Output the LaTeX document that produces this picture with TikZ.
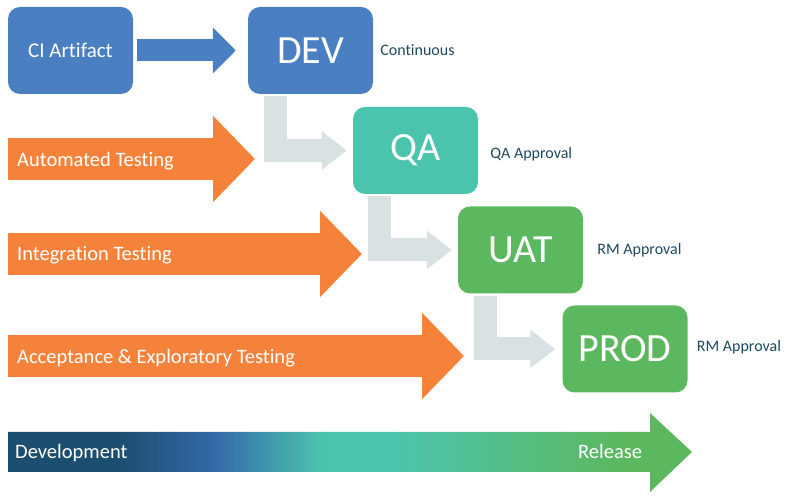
\documentclass[tikz,border=0pt]{standalone}
\usepackage{fontspec}
\setmainfont{Carlito}[Ligatures=NoCommon]
\usepackage{tikz}
\usetikzlibrary{arrows.meta,positioning}
\definecolor{ciblue}{HTML}{4A7FC2}
\definecolor{qateal}{HTML}{4BC4AE}
\definecolor{envgreen}{HTML}{5CB85F}
\definecolor{testorange}{HTML}{F5823A}
\definecolor{flowgray}{HTML}{D9E2E2}
\definecolor{notecol}{HTML}{1E4A5E}
\definecolor{devnavy}{HTML}{1C4E6F}
\definecolor{midblue}{HTML}{3469A8}
\pgfdeclarehorizontalshading{devrelease}{100bp}{color(0bp)=(devnavy); color(33bp)=(devnavy); color(40bp)=(midblue); color(48bp)=(qateal); color(53bp)=(qateal); color(70bp)=(envgreen); color(100bp)=(envgreen)}

\begin{document}
\begin{tikzpicture}[x=1pt, y=-1pt,
  env/.style={rounded corners=12pt, minimum width=125pt, minimum height=87pt,
    text=white, inner sep=0pt, font=\fontsize{40}{48}\selectfont},
  note/.style={text=notecol, inner sep=0pt, font=\fontsize{16}{19}\selectfont},
  testlbl/.style={text=white, anchor=base west, inner sep=0pt, font=\fontsize{20.5}{24}\selectfont},
  promote/.style={draw=flowgray, line width=23pt, -{Triangle[length=25pt, width=37pt]}},
  testarrow/.style={draw=testorange, line width=42pt, -{Triangle[length=42pt, width=84pt]}}]

  \useasboundingbox (0,0) rectangle (788,502);

  %% test stages
  \coordinate (autotip) at (255,159);
  \coordinate (integtip) at (362,254);
  \coordinate (accepttip) at (464,356);
  \draw[testarrow] (8,159) -- (autotip);
  \draw[testarrow] (8,254) -- (integtip);
  \draw[testarrow] (8,356) -- (accepttip);
  \node[testlbl] (autolbl) at (17,167) {Automated Testing};
  \node[testlbl] (integlbl) at (17,261) {Integration Testing};
  \node[testlbl] (acceptlbl) at (17,364) {Acceptance \& Exploratory Testing};

  %% environments
  \node[env, fill=ciblue, font=\fontsize{21}{25}\selectfont] (ci) at (70.5,50.5) {CI Artifact};
  \node[env, fill=ciblue] (dev) at (310.5,50.5) {DEV};
  \node[env, fill=qateal] (qa) at (415.5,150.5) {QA};
  \node[env, fill=envgreen] (uat) at (520.5,250) {UAT};
  \node[env, fill=envgreen] (prod) at (625,349) {PROD};

  \node[note, right=7pt of dev] (devnote) {Continuous};
  \node[note, right=12pt of qa, yshift=-4pt] (qanote) {QA Approval};
  \node[note, right=14pt of uat] (uatnote) {RM Approval};
  \node[note, right=9pt of prod, yshift=2pt] (prodnote) {RM Approval};

  %% promotion
  \draw[draw=ciblue, line width=22pt, -{Triangle[length=23pt, width=45pt]}]
    ([xshift=4pt]ci.east) -- ([xshift=-12pt]dev.west);
  \draw[promote] ([xshift=-35pt, yshift=-2pt]dev.south) |- ([xshift=-6pt]qa.west);
  \draw[promote] ([xshift=-36pt, yshift=-2pt]qa.south) |- ([xshift=-6pt]uat.west);
  \draw[promote] ([xshift=-35pt, yshift=-2pt]uat.south) |- ([xshift=-7pt]prod.west);

  %% timeline
  \coordinate (reltip) at (692,452);
  \shade[shading=devrelease] (8,432) -- (650,432) -- (650,413) -- (reltip)
    -- (650,492) -- (650,472) -- (8,472) -- cycle;
  \node[testlbl] (devlbl) at (15,459) {Development};
  \node[testlbl] (rellbl) at (578,459) {Release};

\end{tikzpicture}
\end{document}
